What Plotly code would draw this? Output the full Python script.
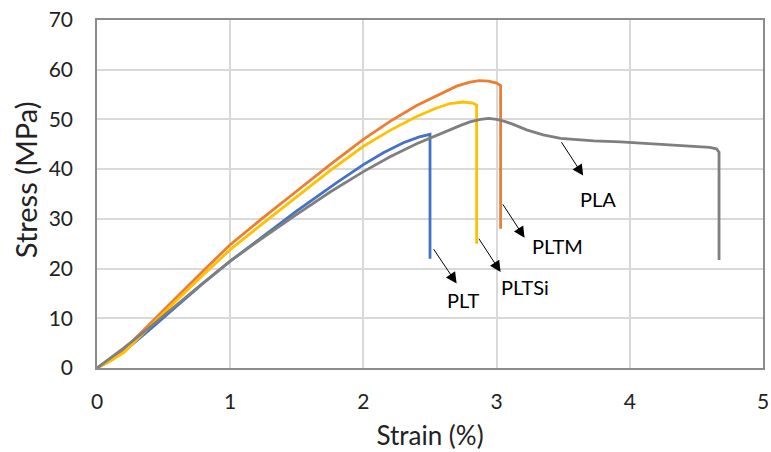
import plotly.graph_objects as go

# Strain (%) and stress (MPa)
plt_x = [0, 0.1, 0.2, 0.4, 0.6, 0.8, 1.0, 1.2, 1.5, 1.8, 2.0, 2.15, 2.3, 2.42, 2.5, 2.5]
plt_y = [0, 1.5, 3.3, 7.8, 12.5, 17.1, 21.5, 25.6, 31.6, 37.3, 40.9, 43.3, 45.3, 46.5, 47.0, 22.0]

pltm_x = [0, 0.1, 0.2, 0.4, 0.6, 0.8, 1.0, 1.25, 1.5, 1.75, 2.0, 2.2, 2.4, 2.6, 2.7, 2.8, 2.87, 2.94, 3.0, 3.03, 3.03]
pltm_y = [0, 1.6, 3.6, 9.0, 14.3, 19.6, 24.8, 30.3, 35.6, 40.9, 46.0, 49.6, 52.8, 55.5, 56.7, 57.5, 57.8, 57.7, 57.3, 56.8, 28.0]

pltsi_x = [0, 0.1, 0.2, 0.4, 0.6, 0.8, 1.0, 1.25, 1.5, 1.75, 2.0, 2.2, 2.4, 2.55, 2.65, 2.75, 2.82, 2.85, 2.85]
pltsi_y = [0, 1.4, 3.1, 8.5, 13.7, 18.8, 23.8, 29.2, 34.5, 39.7, 44.6, 47.8, 50.6, 52.3, 53.2, 53.5, 53.3, 52.9, 25.0]

pla_x = [0, 0.1, 0.2, 0.4, 0.6, 0.8, 1.0, 1.25, 1.5, 1.75, 2.0, 2.2, 2.4, 2.6, 2.73, 2.8, 2.88, 2.94, 3.0, 3.06, 3.125, 3.225, 3.35, 3.48, 3.6, 3.73, 3.93, 4.2, 4.45, 4.6, 4.65, 4.67, 4.67]
pla_y = [0, 2.0, 4.0, 8.3, 12.8, 17.2, 21.5, 26.3, 30.9, 35.4, 39.5, 42.5, 45.1, 47.4, 48.8, 49.5, 50.0, 50.2, 50.0, 49.6, 49.0, 47.9, 46.9, 46.2, 45.9, 45.7, 45.5, 45.1, 44.7, 44.4, 44.1, 43.4, 21.7]

labels = ["PLT", "PLTM", "PLTSi", "PLA"]
# label text positions and arrow (tail -> head) in data units
label_x = [2.75, 3.46, 3.21, 3.76]
label_y = [13.6, 24.5, 16.2, 34.0]
arrow_tail_x = [2.52, 3.04, 2.86, 3.48]
arrow_tail_y = [24.2, 33.2, 26.3, 45.7]
arrow_head_x = [2.70, 3.21, 3.03, 3.65]
arrow_head_y = [17.0, 26.2, 19.3, 38.7]

x_ticks = [0, 1, 2, 3, 4, 5]
y_ticks = [0, 10, 20, 30, 40, 50, 60, 70]

colors = {"PLT": "#4472C4", "PLTM": "#ED7D31", "PLTSi": "#FFC000", "PLA": "#7F7F7F"}
FONT = "Lato, Liberation Sans, sans-serif"

fig = go.Figure()
for name, xs, ys in [("PLT", plt_x, plt_y), ("PLTM", pltm_x, pltm_y),
                     ("PLTSi", pltsi_x, pltsi_y), ("PLA", pla_x, pla_y)]:
    fig.add_trace(go.Scatter(x=xs, y=ys, mode="lines", name=name,
                             line=dict(color=colors[name], width=2.8)))

for i, lab in enumerate(labels):
    fig.add_annotation(x=arrow_head_x[i], y=arrow_head_y[i], ax=arrow_tail_x[i], ay=arrow_tail_y[i],
                       xref="x", yref="y", axref="x", ayref="y", text="", showarrow=True,
                       arrowhead=2, arrowsize=2.2, arrowwidth=1, arrowcolor="black")
    fig.add_annotation(x=label_x[i], y=label_y[i], xref="x", yref="y", text=lab, showarrow=False,
                       font=dict(family=FONT, size=20, color="black"))

# y-axis title (placed slightly above centre, as in the reference)
fig.add_annotation(text="Stress (MPa)", textangle=-90, xref="paper", yref="paper",
                   x=-0.108, y=0.54, xanchor="center", yanchor="middle", showarrow=False,
                   font=dict(family=FONT, size=29, color="#222222"))

fig.update_layout(
    width=771, height=452,
    margin=dict(l=97, r=8, t=20, b=84),
    paper_bgcolor="white", plot_bgcolor="white",
    showlegend=False,
    font=dict(family=FONT, size=21, color="#222222"),
)
fig.update_xaxes(range=[0, 5], tickvals=x_ticks, showgrid=True, gridcolor="#D9D9D9", gridwidth=1.5,
                 zeroline=False, showline=True, mirror=True, linecolor="#8C8C8C", linewidth=1.5,
                 ticklabelstandoff=14, automargin=False, tickfont=dict(size=21),
                 ticklabeloverflow="allow",
                 title=dict(text="Strain (%)", font=dict(family=FONT, size=26), standoff=15))
fig.update_yaxes(range=[0, 70], tickvals=y_ticks, showgrid=True, gridcolor="#D9D9D9", gridwidth=1.5,
                 zeroline=False, showline=True, mirror=True, linecolor="#8C8C8C", linewidth=1.5,
                 ticklabelstandoff=18, automargin=False, tickfont=dict(size=21),
                 ticklabeloverflow="allow")

# remove the default page margin so the 771x452 figure fills the window exactly
fig.write_html("out.html", config={"displayModeBar": False},
               post_script="document.body.style.margin='0';document.body.style.overflow='hidden';")
